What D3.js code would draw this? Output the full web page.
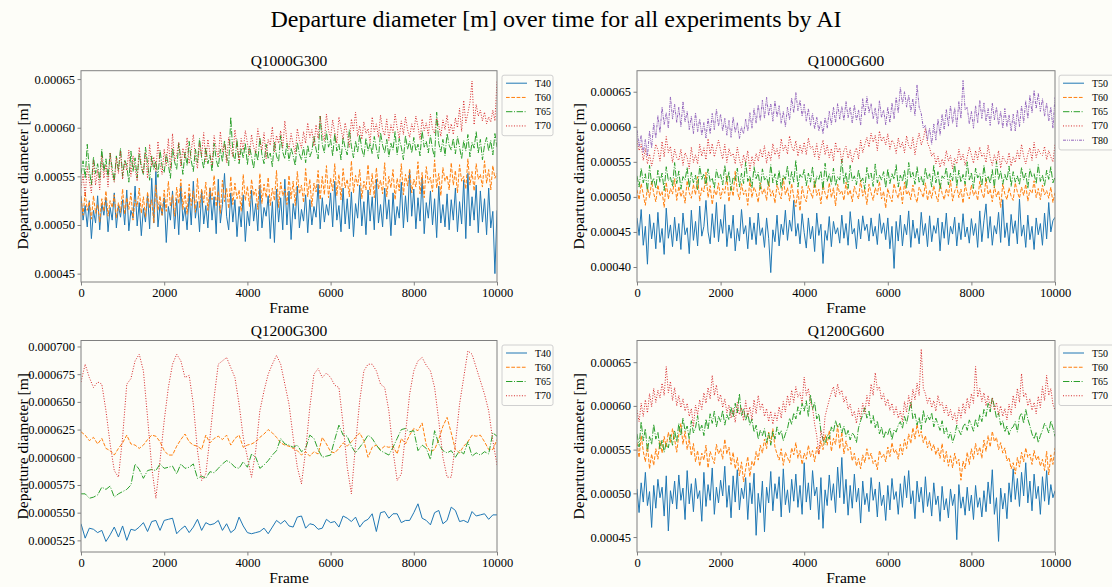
<!DOCTYPE html>
<html><head><meta charset="utf-8">
<script src="https://cdn.jsdelivr.net/npm/d3@7"></script>
<style>
html,body{margin:0;padding:0;background:#fdfdf8;}
svg{display:block;font-family:"Liberation Serif","Times New Roman",serif;}
</style></head>
<body><svg id="chart" width="1112" height="587"></svg>
<script>
// ---------- DATA (values in micrometres; 1 µm = 1e-6 m) ----------
const UM = 1e-6;
const MAIN_TITLE = "Departure diameter [m] over time for all experiments by AI";
const PANEL_TITLES = ["Q1000G300", "Q1000G600", "Q1200G300", "Q1200G600"];
const X_TICKS = [0, 2000, 4000, 6000, 8000, 10000];
const Y_TICKS_Q1000G300 = [0.00045, 0.00050, 0.00055, 0.00060, 0.00065];
const Y_TICKS_Q1000G600 = [0.00040, 0.00045, 0.00050, 0.00055, 0.00060, 0.00065];
const Y_TICKS_Q1200G300 = [0.000525, 0.000550, 0.000575, 0.000600, 0.000625, 0.000650, 0.000675, 0.000700];
const Y_TICKS_Q1200G600 = [0.00045, 0.00050, 0.00055, 0.00060, 0.00065];
const FRAMES_FINE = d3.range(0, 10001, 50);
const FRAMES_COARSE = d3.range(0, 10001, 100);

// Q1000G300
const Q1000G300_T40 = [
530,505,520,498,525,486,515,502,530,495,522,510,528,493,518,505,533,497,520,508,
526,500,536,494,515,507,540,499,523,489,517,503,531,496,548,502,555,498,521,510,
528,482,519,505,535,496,527,490,540,504,518,495,532,500,545,507,524,493,536,501,
520,497,538,505,529,491,547,502,521,553,509,495,533,503,526,488,519,498,531,483,
514,499,536,504,522,494,541,497,518,509,530,486,524,482,537,503,528,495,547,500,
535,485,522,506,540,497,516,504,531,492,526,500,519,508,542,496,528,503,521,510,
533,498,545,505,520,493,538,501,527,496,534,488,522,507,541,499,524,490,536,504,
529,495,547,502,521,498,538,506,526,489,533,500,519,507,544,497,530,503,556,509,
537,496,528,504,549,491,523,507,535,500,527,487,540,502,521,498,532,495,526,505,
538,493,524,501,546,486,553,499,529,505,541,492,535,503,527,490,538,497,514,450,515];
const Q1000G300_T60 = [
528,510,534,515,524,506,530,512,521,503,527,514,535,509,525,518,531,507,523,513,
537,511,528,516,533,505,526,519,538,512,529,508,534,517,526,502,541,515,530,510,
536,514,545,519,531,509,539,522,547,516,534,511,542,520,535,513,548,518,537,523,
544,515,539,526,551,519,535,512,546,524,538,517,550,521,543,527,536,514,552,525,
540,519,547,530,537,516,553,522,542,528,549,520,538,525,556,518,544,530,537,521,
551,527,545,520,555,532,541,523,558,529,547,519,543,534,556,526,550,531,561,528,
548,535,563,530,552,526,558,538,547,529,566,533,551,540,557,527,545,536,562,531,
553,528,559,537,546,532,564,529,550,538,557,526,548,535,563,531,552,540,558,533,
547,539,565,532,554,528,560,543,549,534,567,538,553,530,559,545,551,536,564,541,
556,533,562,545,550,537,568,541,555,535,563,547,552,539,566,543,557,536,561,548,553];
const Q1000G300_T65 = [
552,566,548,583,557,541,570,553,563,546,578,555,568,549,574,558,545,571,556,579,
550,567,561,544,576,555,569,548,573,559,552,580,563,546,571,557,566,549,577,560,
554,573,562,548,579,565,557,584,568,552,575,561,586,566,555,578,564,589,569,558,
580,563,572,555,584,567,559,578,565,587,570,561,611,574,566,588,563,579,569,584,
562,581,570,558,577,566,590,572,563,583,568,574,560,586,571,565,592,575,568,584,
566,579,571,561,585,573,567,580,564,582,570,576,591,578,568,612,583,574,596,580,
588,571,594,576,583,567,590,579,572,598,581,569,586,575,593,578,570,589,576,584,
573,591,579,568,595,582,574,588,570,584,577,596,572,589,580,567,592,578,586,574,
590,576,583,571,597,580,586,574,592,578,569,616,584,575,588,571,594,582,577,589,
573,591,580,568,587,576,593,570,585,579,596,574,588,567,582,590,576,587,572,594,580];
const Q1000G300_T70 = [
538,552,529,560,545,533,566,541,557,536,571,548,562,539,574,551,544,569,553,576,
547,565,556,577,550,571,558,545,580,562,553,575,548,583,560,570,555,586,563,552,
578,561,589,557,594,566,572,585,560,579,568,590,563,576,593,569,558,584,571,595,
565,588,574,561,592,578,569,596,575,583,564,590,579,570,598,581,566,589,577,597,
584,571,593,580,574,599,586,577,595,568,588,582,601,575,592,584,597,579,607,586,
578,594,583,573,599,587,579,596,584,605,590,598,581,603,589,612,594,586,614,597,
590,608,595,584,611,599,588,605,593,580,609,597,616,591,602,588,606,594,599,585,
611,596,604,590,613,598,592,609,587,603,595,614,600,589,607,593,611,598,590,604,
596,612,601,588,609,597,605,592,614,599,594,610,603,591,608,598,613,595,604,593,
610,600,620,596,628,605,615,626,648,603,624,612,618,607,616,604,611,606,618,607,648];

// Q1000G600
const Q1000G600_T50 = [
470,445,482,431,458,404,475,440,463,426,478,435,455,418,484,441,460,429,471,437,
462,425,477,446,456,419,481,438,465,430,487,444,458,495,450,433,476,442,492,436,
468,448,489,429,460,441,474,423,455,437,482,447,459,426,471,439,463,432,477,445,
456,428,470,441,392,453,436,474,430,461,446,481,438,467,451,495,444,462,433,476,
449,427,470,440,458,422,477,445,461,405,452,438,472,429,465,447,456,434,474,441,
462,431,479,447,455,426,468,440,473,452,461,437,470,444,458,432,476,448,463,439,
470,426,458,398,465,437,474,430,461,446,480,428,467,441,455,433,478,445,462,429,
473,436,459,448,470,423,464,441,477,432,458,447,471,430,463,439,476,443,457,434,
469,445,462,428,480,436,466,490,441,472,431,459,447,478,435,496,442,463,430,475,
448,466,433,497,444,460,428,474,439,458,425,470,446,462,431,477,440,492,450,466,471];
const Q1000G600_T60 = [
510,496,519,503,488,514,499,522,505,493,517,501,508,485,521,497,512,504,526,495,
515,500,509,491,523,506,498,518,503,529,494,513,507,535,499,516,489,510,502,520,
497,512,505,531,493,516,501,537,508,496,519,503,510,488,525,499,514,506,492,520,
504,512,495,522,501,509,491,518,506,497,527,503,513,494,519,500,486,511,480,515,
500,493,516,507,498,523,502,511,490,517,505,496,520,499,513,487,518,504,509,495,
521,502,510,493,515,505,497,524,501,511,489,518,506,495,513,503,522,497,508,484,
512,500,493,519,506,498,515,490,521,503,509,496,517,501,492,514,507,499,520,495,
510,498,516,503,493,519,505,496,512,501,524,494,508,515,499,511,491,518,504,497,
517,502,509,495,522,506,498,527,503,511,493,516,500,509,485,519,504,496,513,501,
495,520,507,498,514,502,518,494,510,505,523,499,512,496,517,503,509,498,514,492,506];
const Q1000G600_T65 = [
530,514,541,520,533,508,545,518,527,512,538,521,534,509,543,523,528,515,549,519,
537,511,529,524,542,513,535,520,531,510,544,525,533,516,540,522,527,512,539,526,
532,517,545,521,536,509,528,523,541,514,534,519,550,522,530,513,543,526,535,511,
540,524,529,515,546,520,533,517,538,512,531,525,544,518,536,521,552,514,532,527,
539,516,534,521,543,513,530,525,537,510,548,522,533,518,541,516,529,524,554,519,
535,512,545,523,530,517,539,521,527,511,542,526,534,515,547,520,531,524,536,513,
540,519,533,525,546,514,531,522,538,512,549,527,535,518,543,521,529,516,541,525,
533,514,545,520,536,511,530,526,542,517,534,523,547,515,538,521,532,518,550,524,
535,512,541,527,533,516,545,522,530,519,539,513,551,525,537,518,532,523,544,515,
536,521,530,517,542,524,534,512,540,528,533,519,546,522,531,516,538,525,543,520,528];
const Q1000G600_T70 = [
580,566,575,552,569,547,561,544,558,575,567,551,579,557,586,563,572,549,568,556,
552,568,545,563,556,540,571,549,560,547,575,558,570,553,583,561,576,557,569,581,
566,554,575,549,569,558,562,547,571,553,542,560,549,566,537,558,545,562,551,568,
556,573,548,565,552,576,560,569,555,583,566,574,561,587,572,565,580,558,574,562,
578,560,584,569,572,557,576,553,568,581,560,574,556,569,551,578,563,570,548,566,
572,555,567,549,562,570,554,581,563,575,585,571,591,578,588,566,594,579,586,574,
590,568,581,576,562,584,570,578,563,587,573,568,585,560,579,591,574,583,598,577,
570,558,563,547,558,542,554,545,566,551,559,540,555,547,568,552,561,545,557,571,
560,548,566,553,571,557,562,549,574,556,545,560,549,566,541,558,552,547,563,544,
557,549,566,553,575,558,547,561,570,552,578,556,568,562,559,572,553,566,557,550,575];
const Q1000G600_T80 = [
595,572,588,563,582,558,594,570,605,584,616,592,628,603,620,598,643,611,632,606,
628,600,636,607,622,596,615,590,620,593,611,588,606,584,612,590,619,596,625,601,
618,594,612,588,609,585,614,592,606,583,600,590,611,594,620,598,626,605,631,609,
638,612,642,616,633,608,637,614,630,605,622,600,628,610,641,620,649,623,638,615,
632,608,626,602,619,597,614,594,608,590,613,598,622,603,628,606,633,611,629,609,
636,613,628,605,631,609,624,602,640,616,643,620,633,611,627,604,637,613,624,603,
628,606,634,611,642,620,656,633,650,628,645,622,640,616,660,628,619,598,602,582,
598,575,604,581,611,588,618,596,625,601,630,605,627,600,636,612,666,624,628,604,
622,598,630,606,638,612,634,608,626,602,634,610,628,603,622,598,626,600,617,594,
618,594,624,600,630,606,637,612,645,620,652,626,648,622,640,615,634,608,628,598,642];

// Q1200G300 (every 100 frames)
const Q1200G300_T40 = [
540,527,536,535,532,534,524,530,537,528,538,525,535,534,537,541,533,542,543,534,
543,544,545,531,535,538,532,537,544,534,541,539,540,543,534,540,532,535,546,538,
532,531,532,533,536,531,537,543,540,543,538,537,546,547,536,540,539,535,536,544,
541,542,537,547,545,542,546,537,542,544,549,533,550,551,545,549,549,541,543,543,
550,558,545,543,539,550,552,540,543,555,552,542,543,541,551,547,548,549,544,548,548];
const Q1200G300_T60 = [
623,620,615,618,612,617,608,606,602,608,613,620,612,611,608,611,616,620,619,614,
606,602,602,610,616,621,614,611,610,607,620,613,617,619,616,620,611,617,620,609,
611,612,614,618,621,625,622,618,613,611,610,608,606,602,605,601,605,603,618,612,
605,604,608,613,610,614,618,622,615,600,609,611,607,610,609,610,603,617,612,620,
626,624,631,611,605,607,616,628,636,622,607,604,610,614,620,619,620,614,607,607,616];
const Q1200G300_T65 = [
567,567,563,564,566,573,571,574,564,567,569,571,575,594,589,581,588,589,588,594,
590,591,592,585,594,590,591,594,581,583,581,587,586,590,594,597,595,591,590,596,
591,603,600,590,593,597,602,606,617,612,611,609,611,605,608,620,617,607,600,601,
602,616,629,620,619,610,604,609,614,620,617,611,606,604,602,609,617,625,626,623,
624,606,611,608,598,624,612,606,604,606,600,606,603,614,601,604,602,605,603,622,619];
const Q1200G300_T70 = [
668,684,672,663,668,666,642,612,588,582,618,666,671,687,693,678,636,591,563,597,
633,663,684,693,687,672,674,648,606,579,585,618,654,684,687,690,681,672,648,618,
600,582,606,642,660,675,684,692,684,666,648,618,591,576,606,645,675,680,672,676,
672,665,663,630,591,567,612,651,678,684,684,678,666,663,642,606,579,585,621,657,
678,687,690,683,678,663,633,600,582,582,612,648,672,696,693,681,669,657,642,615,593];

// Q1200G600
const Q1200G600_T50 = [
505,478,512,490,524,486,502,461,509,483,516,495,507,474,520,457,503,488,514,482,
521,492,506,470,526,488,511,479,517,494,503,468,524,485,510,492,529,476,507,489,
515,497,531,484,509,472,520,490,527,481,506,494,518,470,512,488,523,452,500,478,
514,456,507,489,525,480,511,494,519,473,528,487,504,478,516,491,522,484,509,476,
535,490,512,481,526,497,507,470,518,460,504,486,521,492,511,478,530,495,541,488,
516,475,509,483,522,490,506,466,514,487,500,479,518,492,505,473,513,486,498,469,
509,481,517,493,502,476,511,484,520,495,526,488,503,471,514,490,507,478,519,485,
501,474,512,487,497,468,508,481,494,472,505,486,499,447,510,483,496,475,507,480,
498,470,509,484,495,473,503,479,513,488,527,476,495,445,506,482,500,471,512,490,
528,493,517,485,524,497,535,489,514,480,522,494,508,476,519,491,526,487,510,495,503];
const Q1200G600_T60 = [
558,541,566,548,536,556,528,545,532,551,539,560,546,565,553,570,558,574,562,547,
567,580,556,571,550,562,543,557,536,549,531,546,538,555,529,548,541,534,556,545,
551,539,562,545,553,533,547,528,541,520,536,513,528,542,519,537,531,548,538,555,
546,562,551,570,558,574,553,545,538,551,532,547,541,535,552,544,558,540,549,533,
546,539,555,542,549,536,553,544,560,550,567,555,572,548,563,556,578,551,570,545,
560,549,553,537,546,531,540,528,544,535,551,539,546,534,538,527,549,541,545,536,
553,542,558,546,550,539,556,544,562,551,568,557,575,562,579,565,571,558,566,552,
560,549,556,544,552,540,557,536,548,531,543,529,546,534,539,515,537,528,547,533,
551,539,557,544,553,540,561,548,566,553,571,559,564,550,558,546,552,537,541,528,
535,522,541,530,547,536,552,541,545,533,549,538,543,531,539,526,548,521,544,533,552];
const Q1200G600_T65 = [
568,553,582,560,574,548,565,556,579,562,570,550,561,547,558,552,567,555,572,559,
580,566,586,571,577,562,583,569,575,589,571,578,566,585,573,591,580,594,576,588,
582,595,578,590,584,599,587,603,592,614,589,597,583,592,578,585,570,578,562,572,
566,574,558,569,555,571,562,576,567,572,560,568,574,586,579,592,585,599,590,603,
594,606,588,613,596,604,585,591,571,562,556,567,562,576,570,583,575,580,569,577,
565,572,561,569,566,558,575,583,590,598,586,594,580,589,575,583,568,576,563,571,
567,575,561,573,570,578,582,574,588,580,592,605,585,591,578,587,573,595,581,589,
584,592,576,586,579,572,583,568,575,563,570,558,566,578,572,567,576,580,572,584,
578,571,585,576,590,582,596,588,603,593,610,599,586,592,578,583,570,577,567,574,
576,582,570,587,592,580,596,585,577,568,562,570,558,566,572,580,576,569,583,575,565];
const Q1200G600_T70 = [
595,582,603,588,607,592,614,599,620,604,618,609,626,612,645,615,628,606,621,600,
612,598,608,594,603,588,597,576,601,590,607,596,615,603,621,608,635,612,624,605,
613,598,608,592,601,586,597,581,604,590,598,583,606,588,599,584,607,591,612,596,
603,588,597,582,594,579,592,583,599,586,605,593,612,600,618,604,622,610,615,603,
633,612,620,604,598,579,566,545,572,560,588,598,607,615,622,610,625,613,618,604,
611,596,602,588,594,580,597,585,603,591,612,600,625,612,638,618,622,607,614,600,
608,595,603,590,599,586,594,582,605,593,612,598,619,607,626,612,665,620,614,603,
610,598,606,594,612,600,604,592,601,588,596,584,592,580,598,586,603,591,609,597,
614,603,645,610,620,605,615,600,612,598,609,595,604,590,600,588,597,584,602,590,
612,598,620,604,637,610,615,600,608,595,604,591,611,598,622,606,635,612,620,602,595];

// ---------- STYLE ----------
const COLORS = {T40:"#1f77b4", T50:"#1f77b4", T60:"#ff7f0e", T65:"#2ca02c", T70:"#d62728", T80:"#9467bd"};
const DASHES = {T40:null, T50:null, T60:"3.7,1.6", T65:"6.4,1.6,1,1.6", T70:"1,1.65", T80:"3,1,1,1,1,1"};
const FONT_TICK = 12.5, FONT_LABEL = 15.5, FONT_LEG = 10;
const BG = "#fdfdf8", SPINE = "#808080";

const panels = [
  {title:PANEL_TITLES[0], col:0, row:0, dom:[441.4e-6, 658.6e-6], ticks:Y_TICKS_Q1000G300, dec:5, frames:FRAMES_FINE,
   series:[["T40",Q1000G300_T40],["T60",Q1000G300_T60],["T65",Q1000G300_T65],["T70",Q1000G300_T70]]},
  {title:PANEL_TITLES[1], col:1, row:0, dom:[378.6e-6, 680e-6], ticks:Y_TICKS_Q1000G600, dec:5, frames:FRAMES_FINE,
   series:[["T50",Q1000G600_T50],["T60",Q1000G600_T60],["T65",Q1000G600_T65],["T70",Q1000G600_T70],["T80",Q1000G600_T80]]},
  {title:PANEL_TITLES[2], col:0, row:1, dom:[514.5e-6, 705.4e-6], ticks:Y_TICKS_Q1200G300, dec:6, frames:FRAMES_COARSE,
   series:[["T40",Q1200G300_T40],["T60",Q1200G300_T60],["T65",Q1200G300_T65],["T70",Q1200G300_T70]]},
  {title:PANEL_TITLES[3], col:1, row:1, dom:[432.9e-6, 674.8e-6], ticks:Y_TICKS_Q1200G600, dec:5, frames:FRAMES_FINE,
   series:[["T50",Q1200G600_T50],["T60",Q1200G600_T60],["T65",Q1200G600_T65],["T70",Q1200G600_T70]]}
];

const COLS = [{x0:81, x1:497, leg:502, legW:51}, {x0:637, x1:1055, leg:1059, legW:56}];
const ROWS = [{y0:70.7, y1:282}, {y0:340.5, y1:552}];

const svg = d3.select("#chart");
svg.append("rect").attr("width",1112).attr("height",587).attr("fill",BG);

svg.append("text").attr("x",556).attr("y",27).attr("text-anchor","middle")
  .attr("font-size",24).attr("fill","#000").text(MAIN_TITLE);

panels.forEach((p, pi) => {
  const C = COLS[p.col], R = ROWS[p.row];
  const x = d3.scaleLinear().domain([0,10000]).range([C.x0, C.x1]);
  const y = d3.scaleLinear().domain(p.dom).range([R.y1, R.y0]);
  const g = svg.append("g");

  const clipId = "clip"+pi;
  g.append("clipPath").attr("id",clipId).append("rect")
    .attr("x",C.x0).attr("y",R.y0).attr("width",C.x1-C.x0).attr("height",R.y1-R.y0);

  const lines = g.append("g").attr("clip-path",`url(#${clipId})`);
  p.series.forEach(([name, vals]) => {
    const line = d3.line().x((d,i)=>x(p.frames[i])).y(d=>y(d*UM));
    lines.append("path").datum(vals).attr("d",line).attr("fill","none")
      .attr("stroke",COLORS[name]).attr("stroke-width",1)
      .attr("stroke-dasharray",DASHES[name]);
  });

  // spines
  g.append("rect").attr("x",C.x0).attr("y",R.y0).attr("width",C.x1-C.x0).attr("height",R.y1-R.y0)
    .attr("fill","none").attr("stroke",SPINE).attr("stroke-width",1);

  const xa = g.append("g").attr("transform",`translate(0,${R.y1})`)
    .call(d3.axisBottom(x).tickValues(X_TICKS).tickFormat(d3.format("d")).tickSize(3.5).tickPadding(2.5));
  const ya = g.append("g").attr("transform",`translate(${C.x0},0)`)
    .call(d3.axisLeft(y).tickValues(p.ticks).tickFormat(d=>d.toFixed(p.dec)).tickSize(3.5).tickPadding(2.5));
  [xa, ya].forEach(a => {
    a.select(".domain").remove();
    a.selectAll(".tick line").attr("stroke",SPINE);
    a.selectAll(".tick text").attr("font-size",FONT_TICK).attr("fill","#000")
      .attr("font-family",'"Liberation Serif","Times New Roman",serif');
  });

  g.append("text").attr("x",(C.x0+C.x1)/2).attr("y",R.y0-4.5).attr("text-anchor","middle")
    .attr("font-size",FONT_LABEL).text(p.title);
  g.append("text").attr("x",(C.x0+C.x1)/2).attr("y",R.y1+31).attr("text-anchor","middle")
    .attr("font-size",FONT_LABEL).text("Frame");
  g.append("text").attr("transform",`translate(${C.x0-53},${(R.y0+R.y1)/2}) rotate(-90)`)
    .attr("text-anchor","middle").attr("font-size",FONT_LABEL).text("Departure diameter [m]");

  // legend
  const lg = g.append("g").attr("transform",`translate(${C.leg},${R.y0+4.5})`);
  const n = p.series.length;
  lg.append("rect").attr("x",0).attr("y",0).attr("width",C.legW).attr("height",n*14.25+3.5)
    .attr("rx",2).attr("fill",BG).attr("stroke","#d0d0d0").attr("stroke-width",1);
  p.series.forEach(([name], i) => {
    const yy = 8 + i*14.25;
    lg.append("line").attr("x1",4).attr("x2",25).attr("y1",yy).attr("y2",yy)
      .attr("stroke",COLORS[name]).attr("stroke-width",1).attr("stroke-dasharray",DASHES[name]);
    lg.append("text").attr("x",33).attr("y",yy+3.5).attr("font-size",FONT_LEG).text(name);
  });
});
</script>
</body></html>
